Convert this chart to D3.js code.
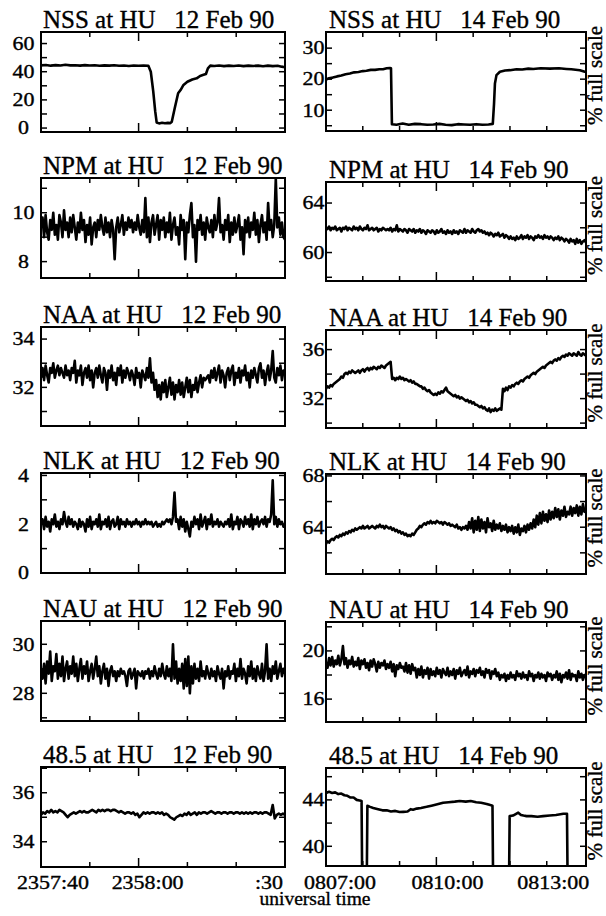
<!DOCTYPE html>
<html>
<head>
<meta charset="utf-8">
<script src="https://cdn.jsdelivr.net/npm/d3@7"></script>
<style>
body { margin: 0; background: #fff; }
svg text { font-family: "Liberation Serif", "DejaVu Serif", "Times New Roman", Times, serif; fill: #000; stroke: #000; stroke-width: 0.35px; }
</style>
</head>
<body>
<svg id="chart" width="606" height="916" font-family="Liberation Serif, DejaVu Serif, serif"></svg>
<script>
// Data
var stations = ["NSS", "NPM", "NAA", "NLK", "NAU", "48.5"];
var dates = ["12 Feb 90", "14 Feb 90"];

// time axes (seconds from the first label)
var tTicks12 = [10, 20, 30, 40];
var tTicks14 = [60, 120, 180, 240, 300, 360];
var tLabels12 = ["2357:40", "2358:00", ":30"];
var tLabelAt12 = [0, 20, 50];
var tLabels14 = ["0807:00", "0810:00", "0813:00"];
var tLabelAt14 = [0, 180, 360];

// y axes
var yDomain12 = [[-2.8, 68.2], [7.33, 11.42], [30.4, 34.5], [0, 4.1], [26.87, 30.95], [32.97, 37.05]];
var yDomain14 = [[3.3, 35.2], [57.7, 65.7], [29.6, 37.6], [60.35, 68.15], [14.1, 22.4], [38.3, 46.75]];
var yLabels12 = [[0, 20, 40, 60], [8, 10], [32, 34], [0, 2, 4], [28, 30], [34, 36]];
var yLabels14 = [[10, 20, 30], [60, 64], [32, 36], [64, 68], [16, 20], [40, 44]];
var yMinor12 = [10, 1, 1, 1, 1, 1];
var yMinor14 = [5, 2, 2, 2, 2, 2];

// 12 Feb series
var nss12Time = [0,1,2,3,4,5,6,7,8,9,10,11,12,13,14,15,16,17,18,19,20,21,22.0,22.5,23.0,23.4,23.7,24.2,24.8,25.4,26.0,26.5,26.8,27.4,28.1,28.6,29.2,30.0,31.0,31.9,32.6,33.3,33.8,34.2,34.7,35.5,36.5,37.5,38.5,39.5,40.5,41.5,42.5,43.5,44.5,45.5,46.5,47.5,48.5,49.3,50];
var nss12Val = [44.5,44.8,44.3,44.7,44.4,44.9,44.5,44.6,44.3,44.7,44.4,44.6,44.2,44.5,44.3,44.6,44.2,44.4,44.1,44.4,44.2,44.3,44.2,40,26,12,4,3.3,3.8,3.4,3.7,3.5,4.5,14,24.7,27,30.6,32.9,34.5,35.3,37.0,37.8,38.4,42.4,44.3,44.1,44.4,44.0,44.3,44.1,44.4,44.0,44.3,44.1,44.3,43.9,44.3,44.0,44.2,43.6,43.2];

var npm12 = [9.4,9.8,9.0,9.9,9.2,8.9,9.7,9.3,10.0,9.1,9.5,8.9,9.9,9.6,9.0,10.1,9.3,9.6,9.0,9.8,
  9.2,9.9,9.4,8.9,9.6,9.2,10.0,9.3,9.7,8.8,9.5,9.1,9.8,8.7,9.4,9.6,9.0,9.7,9.3,9.9,
  9.4,9.1,9.8,9.2,9.6,9.0,9.7,9.3,8.1,9.4,9.8,9.2,9.5,9.9,9.1,9.6,9.3,9.8,9.4,9.7,
  9.2,9.6,9.3,9.9,9.4,9.1,9.7,9.2,10.6,9.0,9.8,8.8,9.6,9.9,9.1,9.5,9.9,8.9,9.7,9.3,
  9.8,9.0,9.6,9.2,10.0,8.9,9.5,9.8,9.1,9.4,8.7,9.9,9.3,9.7,8.1,9.6,9.2,9.9,10.4,9.0,
  9.5,8.0,9.7,9.3,9.9,9.1,9.6,8.9,9.8,9.4,9.2,9.7,9.0,9.9,9.3,9.6,10.6,9.2,9.5,8.9,
  9.7,9.3,9.9,8.8,9.6,9.1,9.8,9.2,9.5,9.9,8.9,9.4,8.3,9.7,9.2,9.8,9.0,9.6,9.3,10.0,
  9.1,9.7,8.8,9.5,9.9,9.2,9.6,8.9,10.4,9.3,9.7,9.0,9.5,11.4,9.4,9.8,9.1,9.6,9.0,8.9];

var naa12 = [32.4,32.8,32.3,32.9,32.5,32.2,32.8,32.6,33.0,32.4,32.7,32.9,32.5,32.8,32.6,32.4,32.9,32.5,32.7,32.3,
  32.8,32.6,33.1,32.2,32.7,32.5,32.9,32.1,32.6,32.8,32.4,32.9,32.3,32.7,32.0,32.6,32.8,32.4,32.9,32.5,
  32.2,32.8,32.6,31.9,32.7,32.4,32.9,32.3,32.6,32.1,32.8,32.5,32.9,32.2,32.7,32.4,32.8,32.6,32.3,32.7,
  32.5,32.1,32.8,32.4,32.6,32.0,32.7,32.5,32.3,32.8,32.4,33.2,32.2,32.6,31.9,32.3,31.6,32.1,31.5,32.2,
  31.8,32.3,31.6,32.0,32.4,31.7,32.2,31.5,32.1,31.8,32.3,31.7,32.2,31.6,32.0,32.4,31.8,32.3,31.6,32.1,
  31.9,32.4,31.8,32.2,32.5,32.0,32.4,32.3,32.4,32.5,32.2,32.7,32.4,32.8,32.3,32.6,32.9,32.2,32.7,32.5,
  32.0,32.6,32.8,32.3,32.7,32.9,32.1,32.6,32.4,32.8,32.2,32.7,32.5,32.9,32.3,32.6,32.0,32.7,32.4,32.8,
  32.5,32.2,32.8,33.0,32.4,32.7,32.1,32.6,32.9,32.3,32.7,33.5,32.4,32.2,32.8,32.5,32.9,32.3,32.7,32.6];

var nlk12 = [2.0,2.2,1.8,2.3,1.9,2.1,1.7,2.2,2.0,2.4,1.9,2.1,1.8,2.2,2.0,2.5,2.1,1.9,2.3,2.0,
  2.2,1.9,2.1,2.0,1.8,2.2,1.9,2.1,2.0,1.7,2.2,1.9,2.3,1.8,2.1,2.0,2.2,1.9,2.4,1.8,
  2.1,2.0,2.2,1.9,2.3,1.8,2.1,2.2,1.9,2.0,2.3,1.8,2.2,2.0,2.1,1.9,2.2,2.0,2.1,1.9,
  2.1,2.0,2.2,2.0,2.1,1.9,2.1,2.0,2.2,2.0,2.1,2.0,2.1,1.9,2.0,2.1,1.9,2.0,1.9,2.1,
  2.0,2.1,2.2,2.1,2.2,2.0,2.3,3.3,2.1,2.2,1.8,2.3,1.9,2.2,1.7,2.1,1.8,1.5,2.1,1.9,
  2.3,2.0,2.2,1.8,2.4,1.9,2.1,2.3,1.8,2.2,2.0,2.4,1.9,2.1,2.0,2.2,1.9,2.1,2.0,1.9,
  2.1,2.0,2.2,1.9,2.4,1.8,2.1,2.0,2.3,1.8,2.2,2.1,1.9,2.3,2.0,2.2,1.9,2.4,1.8,2.2,
  2.0,2.3,1.9,2.1,2.2,2.0,2.3,1.9,2.2,2.1,2.4,3.8,2.0,2.3,1.9,2.2,2.0,2.1,1.9,2.0];

var nau12 = [29.0,28.6,29.2,28.4,29.3,28.8,29.7,28.5,29.1,28.9,29.6,28.6,29.2,28.7,29.5,28.5,29.0,29.3,28.6,29.1,
  28.8,29.5,28.7,29.2,28.5,29.0,29.4,28.6,29.1,28.8,29.3,28.5,28.9,29.2,28.6,29.0,29.5,28.7,29.1,28.4,
  28.9,29.2,28.6,29.0,28.3,28.9,29.1,28.7,28.9,28.5,28.9,28.7,29.0,28.8,28.9,28.7,28.3,28.9,29.0,28.6,
  28.8,29.0,28.2,28.9,28.8,28.7,28.9,28.6,28.9,28.8,29.0,28.6,28.9,28.7,29.1,28.8,28.6,29.0,28.7,29.2,
  28.8,28.6,29.1,28.7,29.0,28.5,30.0,28.6,29.3,28.4,29.0,28.5,29.2,28.2,29.4,28.3,29.5,28.0,29.1,28.4,
  29.2,28.6,29.0,28.5,29.3,28.7,28.9,28.6,29.1,28.8,28.6,29.0,28.7,28.9,28.5,29.1,28.8,28.6,29.0,28.2,
  28.9,28.7,29.1,28.6,28.9,28.8,29.2,28.5,29.0,28.7,29.4,28.6,29.0,28.8,28.4,29.1,28.7,29.3,28.6,29.0,
  28.5,29.1,28.8,28.6,29.2,28.5,28.9,30.0,28.6,29.0,28.5,29.1,28.8,29.3,28.6,28.9,29.2,28.7,29.0,28.8];

var h48Feb12 = [35.1,35.2,35.15,35.25,35.2,35.3,35.2,35.25,35.2,35.3,35.25,35.2,35.1,35.0,35.1,35.15,35.2,35.15,35.2,35.25,
  35.2,35.25,35.2,35.2,35.25,35.3,35.25,35.2,35.3,35.25,35.3,35.25,35.3,35.3,35.25,35.3,35.3,35.25,35.2,35.25,
  35.2,35.15,35.2,35.2,35.15,35.2,35.1,35.15,35.0,35.1,35.2,35.15,35.2,35.15,35.2,35.2,35.15,35.2,35.15,35.2,
  35.1,35.15,35.1,35.0,34.95,34.9,35.0,35.05,35.1,35.05,35.15,35.1,35.2,35.1,35.15,35.2,35.1,35.2,35.15,35.2,
  35.2,35.15,35.2,35.25,35.2,35.15,35.2,35.2,35.15,35.2,35.2,35.15,35.2,35.2,35.15,35.2,35.2,35.15,35.2,35.15,
  35.2,35.15,35.2,35.15,35.2,35.2,35.15,35.2,35.15,35.2,35.2,35.15,35.1,35.5,34.95,35.1,35.15,35.1,35.15,35.1];

// 14 Feb series
var nss14Time = [0,5,11,18,25,32,39,46,53,60,66,73,80,87,93,99,104,106,107.5,115,125,135,145,155,165,175,185,195,205,215,225,235,245,255,265,272,274,275.5,278,283.6,292,300,310.8,320,330,338,350,365,380,392,400,414,422,424];
var nss14Val = [19.9,20.3,20.5,20.9,21.2,21.6,21.8,22.2,22.3,22.6,22.7,23.0,23.0,23.2,23.2,23.5,23.6,23.5,5.5,5.3,5.7,5.3,5.6,5.5,5.3,5.4,5.6,5.3,5.2,5.5,5.4,5.3,5.5,5.3,5.4,5.6,12,18.6,21.3,22.4,22.8,22.9,23.2,23.1,23.4,23.3,23.5,23.4,23.5,23.3,23.2,22.9,22.4,22.3];

var npm14 = [62.0,61.9,62.1,61.8,62.0,61.9,62.1,61.8,61.9,62.0,61.7,62.0,61.9,62.1,61.8,62.0,61.9,61.8,62.1,61.9,
  62.0,61.8,62.1,61.9,61.8,62.0,61.9,62.2,61.8,61.9,62.0,61.8,61.9,62.0,61.7,61.9,61.8,62.0,61.9,61.8,
  61.9,61.8,62.0,61.7,61.9,61.8,62.2,61.7,61.9,61.8,61.7,61.9,61.8,61.6,61.9,61.8,61.7,61.9,61.6,61.8,
  61.7,61.9,61.6,61.8,61.7,61.5,61.8,61.7,61.6,61.8,61.7,61.5,61.8,61.6,61.7,61.9,61.6,61.7,61.5,61.8,
  61.6,61.7,61.5,61.8,61.6,61.7,61.5,61.8,61.7,61.6,61.9,61.6,61.8,61.7,61.6,61.9,61.7,61.6,61.8,61.9,
  61.7,61.8,61.6,61.7,61.5,61.6,61.4,61.6,61.5,61.3,61.5,61.4,61.6,61.3,61.4,61.5,61.2,61.4,61.3,61.1,
  61.3,61.1,61.2,61.0,61.3,61.1,61.2,61.4,61.1,61.3,61.2,61.4,61.1,61.3,61.2,61.0,61.3,61.2,61.4,61.2,
  61.3,61.1,61.4,61.2,61.3,61.1,61.3,61.2,61.0,61.2,61.1,61.3,61.0,61.2,61.1,60.9,61.1,61.0,60.8,61.1,
  60.9,61.0,60.7,61.1,60.8,61.0,60.7,60.9,61.0,60.8];

var naa14 = [32.8,33.0,32.9,33.1,33.0,33.2,33.3,33.4,33.5,33.6,
  33.8,33.7,34.0,34.1,34.0,34.2,34.1,34.3,34.2,34.1,
  34.2,34.3,34.1,34.3,34.4,34.2,34.4,34.5,34.3,34.5,
  34.4,34.6,34.5,34.4,34.6,34.5,34.7,34.6,34.5,34.7,
  34.8,34.9,35.0,33.6,33.7,33.5,33.7,33.6,33.8,33.6,
  33.7,33.5,33.6,33.5,33.4,33.5,33.3,33.4,33.2,33.2,
  33.1,33.0,33.0,32.8,32.9,32.7,32.6,32.7,32.5,32.4,
  32.3,32.4,32.3,32.5,32.4,32.6,32.5,32.7,32.9,32.6,
  32.5,32.4,32.3,32.2,32.3,32.1,32.2,32.0,32.1,32.0,
  31.9,31.8,31.9,31.7,31.8,31.6,31.7,31.5,31.5,31.4,
  31.3,31.4,31.2,31.3,31.1,31.0,31.2,30.9,31.1,31.0,
  31.2,31.0,31.1,31.2,31.1,32.8,32.6,32.9,32.7,33.0,
  32.9,33.1,33.0,33.2,33.3,33.2,33.4,33.5,33.4,33.6,
  33.7,33.8,33.7,33.9,34.0,34.1,34.0,34.2,34.3,34.4,
  34.5,34.6,34.5,34.7,34.8,34.9,35.0,34.9,35.1,35.2,
  35.1,35.3,35.2,35.4,35.5,35.4,35.6,35.5,35.7,35.6,
  35.5,35.7,35.6,35.5,35.8,35.6,35.5,35.7,35.6,35.5];

var nlk14 = [62.7,62.9,62.8,63.0,63.1,63.0,63.2,63.3,63.2,63.4,
  63.3,63.5,63.4,63.6,63.5,63.7,63.6,63.8,63.7,63.9,
  63.8,63.9,64.0,63.9,64.1,63.9,64.0,64.1,63.9,64.0,
  64.1,64.0,63.9,64.1,64.0,64.2,64.0,64.1,63.9,64.1,
  64.0,63.9,64.0,63.8,63.9,63.7,63.8,63.6,63.7,63.5,
  63.6,63.4,63.5,63.3,63.4,63.3,63.5,63.4,63.6,63.8,
  63.9,64.1,64.0,64.2,64.3,64.2,64.4,64.3,64.5,64.3,
  64.4,64.3,64.5,64.4,64.3,64.4,64.2,64.4,64.3,64.2,
  64.3,64.1,64.2,64.1,64.0,64.2,63.9,64.0,63.8,64.0,
  63.9,64.1,63.8,64.4,63.9,64.7,63.6,64.5,63.8,64.8,
  63.7,64.6,63.9,64.4,63.6,64.7,64.0,64.3,63.7,64.5,
  63.8,64.2,63.9,64.3,63.7,64.1,63.8,64.2,63.6,64.0,
  63.7,64.1,63.5,64.0,63.6,64.2,63.4,63.9,63.7,64.1,
  63.6,64.2,63.8,64.3,63.9,64.6,64.0,64.9,64.2,65.1,
  64.3,65.2,64.5,65.0,64.4,65.3,64.6,65.2,64.7,65.5,
  64.8,65.4,64.6,65.3,64.9,65.6,64.8,65.2,65.0,65.6,
  64.9,65.5,65.1,65.7,64.9,65.6,65.0,65.8,65.2,65.4];

var nau14 = [19.1,18.6,19.4,18.8,19.5,18.7,19.2,18.9,19.6,18.8,
  19.3,20.4,18.9,19.4,18.6,19.2,18.9,19.5,18.7,19.1,
  18.8,19.4,18.5,19.2,18.9,19.3,18.6,19.0,18.4,19.2,
  18.7,19.3,18.9,18.3,19.1,18.6,19.0,18.8,19.2,18.5,
  18.9,18.6,19.1,18.3,18.9,17.9,18.8,18.5,19.0,18.6,
  18.7,18.3,19.0,18.2,18.8,18.1,18.9,18.4,18.6,17.8,
  18.5,18.0,18.7,17.8,18.4,18.1,18.6,17.7,18.5,18.0,
  18.3,17.9,18.6,18.1,18.4,17.8,18.5,18.2,18.0,18.6,
  17.9,18.3,18.0,18.5,17.7,18.4,18.1,18.6,17.9,18.2,
  18.4,18.0,18.7,17.8,18.3,18.1,18.5,17.9,18.4,18.2,
  18.6,18.0,18.3,17.8,18.5,18.2,18.4,17.7,18.3,18.1,
  18.5,17.9,18.2,17.6,18.0,17.8,18.1,17.5,18.0,17.7,
  18.2,17.8,18.0,17.6,18.3,17.9,18.1,17.7,18.2,17.8,
  18.0,17.6,18.3,17.9,18.1,17.5,18.0,17.8,18.2,17.7,
  18.1,17.8,18.0,17.5,18.2,17.9,18.1,17.6,18.0,17.8,
  18.3,17.6,18.1,17.4,18.0,17.8,18.2,17.7,18.4,17.6,
  18.1,17.9,18.0,17.5,18.3,17.8,18.1,17.6,18.0,17.9];

var h48Feb14Time = [0,5,10,15,20,25,30,35,40,45,50,55,58,59,66.5,67.5,72,77,85,92,99,106,113,120,126,133,138,142,148,155,164,172,180,191,200,210,218,228,236,245,253,262,268,271.5,272.5,298.5,299.5,305,310,313.5,318,322,327,335,345,354,365,375,387,393,394,424];
var h48Feb14Val = [44.6,44.7,44.6,44.65,44.5,44.55,44.4,44.35,44.2,44.2,44.0,43.95,43.9,37,37,43.5,43.4,43.3,43.2,43.1,43.1,43.0,43.05,42.95,42.97,43.0,43.2,43.15,43.25,43.3,43.4,43.5,43.6,43.75,43.8,43.85,43.9,43.85,43.9,43.8,43.75,43.65,43.55,43.5,37,37,42.6,42.65,42.8,42.9,42.7,42.65,42.6,42.6,42.55,42.6,42.65,42.7,42.8,42.8,37,37];

var series12 = [{t: nss12Time, v: nss12Val}, {v: npm12}, {v: naa12}, {v: nlk12}, {v: nau12}, {v: h48Feb12}];
var series14 = [{t: nss14Time, v: nss14Val}, {v: npm14}, {v: naa14}, {v: nlk14}, {v: nau14}, {t: h48Feb14Time, v: h48Feb14Val}];

// Layout
var cols = [
  {x0: 41, x1: 285, rows: [[32,132],[178,278],[327,426],[473,573],[621,721],[767,867]],
   tDomain: [0, 50], tTicks: tTicks12, tMajor: 20, tLabels: tLabels12, tLabelAt: tLabelAt12, tLabelDx: [12, 9, -16],
   yDomain: yDomain12, yLabels: yLabels12, yMinor: yMinor12, labelX: 23.5, titleX: 43, date: dates[0], series: series12},
  {x0: 326, x1: 586, rows: [[32,131],[182,281],[330,428],[474,574],[622,722],[768,866]],
   tDomain: [0, 424], tTicks: tTicks14, tMajor: 180, tLabels: tLabels14, tLabelAt: tLabelAt14, tLabelDx: [14, 11, 6.5],
   yDomain: yDomain14, yLabels: yLabels14, yMinor: yMinor14, labelX: 313.5, titleX: 329, date: dates[1], series: series14}
];

var svg = d3.select("#chart");
var defs = svg.append("defs");
var serif = "Liberation Serif, DejaVu Serif, serif";
var stretch = 1.22;

function toPoints(s, tDomain) {
    if (s.t) {
        return s.t.map(function(t, i) { return [t, s.v[i]]; });
    }
    var idx = d3.scaleLinear().domain([0, s.v.length - 1]).range(tDomain);
    return s.v.map(function(v, i) { return [idx(i), v]; });
}

cols.forEach(function(col, c) {
    col.rows.forEach(function(rowY, r) {
        var top = rowY[0], bot = rowY[1];
        var x = d3.scaleLinear().domain(col.tDomain).range([col.x0, col.x1]);
        var y = d3.scaleLinear().domain(col.yDomain[r]).range([bot, top]);
        var g = svg.append("g").attr("class", "panel").attr("font-family", serif);
        var clipId = "clip" + c + "_" + r;

        defs.append("clipPath").attr("id", clipId)
          .append("rect")
            .attr("x", col.x0).attr("y", top)
            .attr("width", col.x1 - col.x0).attr("height", bot - top);

        // data line
        var line = d3.line()
            .x(function(d) { return x(d[0]); })
            .y(function(d) { return y(d[1]); });
        g.append("path")
            .datum(toPoints(col.series[r], col.tDomain))
            .attr("clip-path", "url(#" + clipId + ")")
            .attr("d", line)
            .attr("fill", "none")
            .attr("stroke", "#000")
            .attr("stroke-width", 2.6)
            .attr("stroke-linejoin", "round");

        // y ticks, both sides, pointing in
        var d0 = col.yDomain[r][0], d1 = col.yDomain[r][1], step = col.yMinor[r];
        var yt = d3.range(Math.ceil(d0 / step) * step, d1 + 1e-9, step)
            .filter(function(v) { return y(v) > top + 1 && y(v) < bot - 1; });
        g.selectAll("line.yl").data(yt).enter().append("line")
            .attr("x1", col.x0).attr("x2", col.x0 + 6)
            .attr("y1", function(d) { return y(d); }).attr("y2", function(d) { return y(d); })
            .attr("stroke", "#000").attr("stroke-width", 1.5);
        g.selectAll("line.yr").data(yt).enter().append("line")
            .attr("x1", col.x1).attr("x2", col.x1 - 6)
            .attr("y1", function(d) { return y(d); }).attr("y2", function(d) { return y(d); })
            .attr("stroke", "#000").attr("stroke-width", 1.5);

        // time ticks, top and bottom
        col.tTicks.forEach(function(t) {
            var len = t === col.tMajor ? 9 : 5;
            g.append("line").attr("x1", x(t)).attr("x2", x(t))
                .attr("y1", top).attr("y2", top + len)
                .attr("stroke", "#000").attr("stroke-width", 1.5);
            g.append("line").attr("x1", x(t)).attr("x2", x(t))
                .attr("y1", bot).attr("y2", bot - len)
                .attr("stroke", "#000").attr("stroke-width", 1.5);
        });

        // frame
        g.append("rect")
            .attr("x", col.x0).attr("y", top)
            .attr("width", col.x1 - col.x0).attr("height", bot - top)
            .attr("fill", "none").attr("stroke", "#000").attr("stroke-width", 2);

        // title
        g.append("text")
            .attr("x", col.titleX).attr("y", top - 4.5)
            .attr("xml:space", "preserve")
            .style("white-space", "pre")
            .attr("font-size", 25)
            .text(stations[r] + " at HU   " + col.date);

        // y labels
        g.selectAll("text.yl").data(col.yLabels[r]).enter().append("text")
            .attr("transform", function(d) {
                return "translate(" + col.labelX + "," + y(d) + ") scale(" + stretch + ",1)";
            })
            .attr("dy", "0.35em")
            .attr("text-anchor", "middle")
            .attr("font-size", 18)
            .text(function(d) { return d; });

        if (c === 1) {
            g.append("text")
                .attr("transform", "translate(601.5," + ((top + bot) / 2 - 6) + ") rotate(-90)")
                .attr("text-anchor", "middle")
                .attr("font-size", 21)
                .text("% full scale");
        }

        if (r === col.rows.length - 1) {
            g.selectAll("text.xl").data(col.tLabels).enter().append("text")
                .attr("transform", function(d, i) {
                    return "translate(" + (x(col.tLabelAt[i]) + col.tLabelDx[i]) + ",888.5) scale(" + stretch + ",1)";
                })
                .attr("text-anchor", "middle")
                .attr("font-size", 18)
                .text(function(d) { return d; });
        }
    });
});

svg.append("text")
    .attr("x", 315).attr("y", 905)
    .attr("text-anchor", "middle")
    .attr("font-family", serif)
    .attr("font-size", 19.5)
    .text("universal time");
</script>
</body>
</html>
